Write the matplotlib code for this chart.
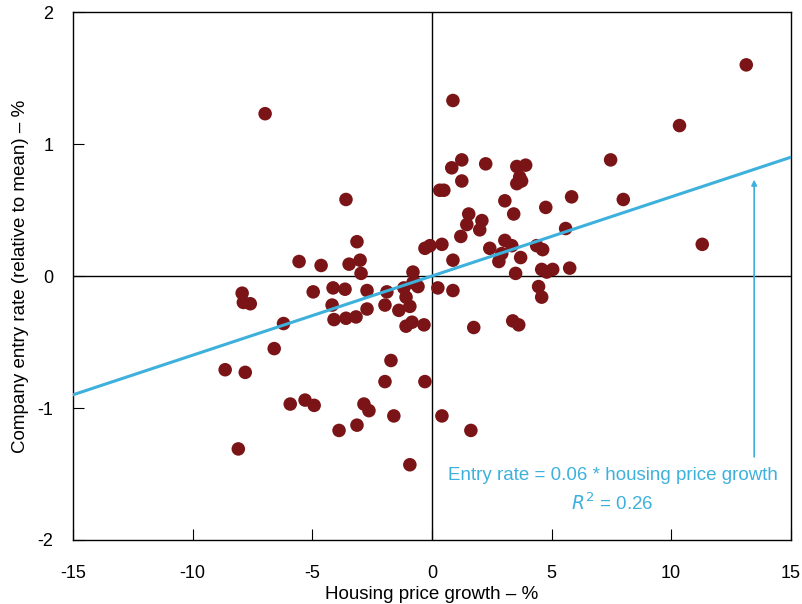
import numpy as np
import matplotlib.pyplot as plt

plt.rcParams['font.family'] = ['Liberation Sans', 'DejaVu Sans']
plt.rcParams['axes.unicode_minus'] = False

# housing price growth (%) and company entry rate relative to mean (%)
house_growth = [
    13.14, 10.35, -6.97, 0.88, 7.47, 8.0, 5.84, 11.3, 1.25, 0.83,
    1.25, 2.25, 3.55, 3.92, 3.67, 3.55, 3.75, 0.33, 0.5, 3.05,
    3.42, 4.76, 1.54, 2.09, 1.46, 2.0, 1.21, 5.59, 0.42, -0.29,
    -0.08, 3.05, 3.34, 2.42, 4.38, 4.63, 2.92, 2.8, 3.71, 0.88,
    3.5, 4.59, 4.8, 5.05, 5.76, 0.25, 0.88, 4.46, 4.59, -0.33,
    1.75, 3.38, 3.63, -0.29, 0.42, 1.63, -3.59, -3.13, -5.55, -4.63,
    -3.46, -3.0, -2.96, -0.79, -7.93, -4.96, -4.13, -3.63, -2.71, -1.88,
    -1.17, -0.71, -7.88, -7.59, -0.58, -4.17, -1.96, -1.08, -1.38, -0.92,
    -2.71, -4.09, -3.59, -3.17, -6.2, -1.08, -0.83, -6.59, -8.64, -7.8,
    -1.71, -1.96, -5.92, -5.3, -4.92, -2.84, -2.63, -1.59, -3.13, -3.88,
    -8.09, -0.92, -0.79,
]
entry_rate = [
    1.60, 1.14, 1.23, 1.33, 0.88, 0.58, 0.60, 0.24, 0.88, 0.82,
    0.72, 0.85, 0.83, 0.84, 0.75, 0.70, 0.72, 0.65, 0.65, 0.57,
    0.47, 0.52, 0.47, 0.42, 0.39, 0.35, 0.30, 0.36, 0.24, 0.21,
    0.23, 0.27, 0.23, 0.21, 0.23, 0.20, 0.17, 0.11, 0.14, 0.12,
    0.02, 0.05, 0.03, 0.05, 0.06, -0.09, -0.11, -0.08, -0.16, -0.37,
    -0.39, -0.34, -0.37, -0.80, -1.06, -1.17, 0.58, 0.26, 0.11, 0.08,
    0.09, 0.12, 0.02, 0.03, -0.13, -0.12, -0.09, -0.10, -0.11, -0.12,
    -0.09, -0.05, -0.20, -0.21, -0.08, -0.22, -0.22, -0.16, -0.26, -0.23,
    -0.25, -0.33, -0.32, -0.31, -0.36, -0.38, -0.35, -0.55, -0.71, -0.73,
    -0.64, -0.80, -0.97, -0.94, -0.98, -0.97, -1.02, -1.06, -1.13, -1.17,
    -1.31, -1.43, -0.05,
]

slope = 0.06
r_squared = 0.26

fig = plt.figure(figsize=(8.02, 6.04), dpi=100)
ax = fig.add_axes([0.091, 0.106, 0.895, 0.874])

# zero lines
ax.axhline(0, color='black', linewidth=1, zorder=1)
ax.axvline(0, color='black', linewidth=1, zorder=1)

ax.scatter(house_growth, entry_rate, s=95, color='#7B1416', edgecolors='none', zorder=2)

# fitted line
x_line = np.array([-15, 15])
ax.plot(x_line, slope * x_line, color='#3DB1DC', linewidth=2.2, zorder=3)

ax.annotate('', xy=(13.47, 0.73), xytext=(13.47, -1.37),
            arrowprops=dict(arrowstyle='-|>', color='#3DB1DC', lw=1.2,
                            mutation_scale=8, shrinkA=0, shrinkB=0))
ax.text(7.55, -1.51, 'Entry rate = 0.06 * housing price growth',
        color='#3DB1DC', fontsize=13.5, ha='center', va='center')
ax.text(7.55, -1.72, r'$R^2$ = ' + f'{r_squared:.2f}',
        color='#3DB1DC', fontsize=13.5, ha='center', va='center')

ax.set_xlim(-15, 15)
ax.set_ylim(-2, 2)
ax.set_xticks([-15, -10, -5, 0, 5, 10, 15])
ax.set_yticks([-2, -1, 0, 1, 2])
ax.tick_params(direction='in', length=8, labelsize=13)
ax.tick_params(axis='x', pad=18)
ax.tick_params(axis='y', pad=14)

ax.set_xlabel('Housing price growth – %', fontsize=13.5, labelpad=3)
ax.set_ylabel('Company entry rate (relative to mean) – %', fontsize=13.5, labelpad=6)

for spine in ax.spines.values():
    spine.set_linewidth(1)

plt.savefig('out.png')
plt.close()
